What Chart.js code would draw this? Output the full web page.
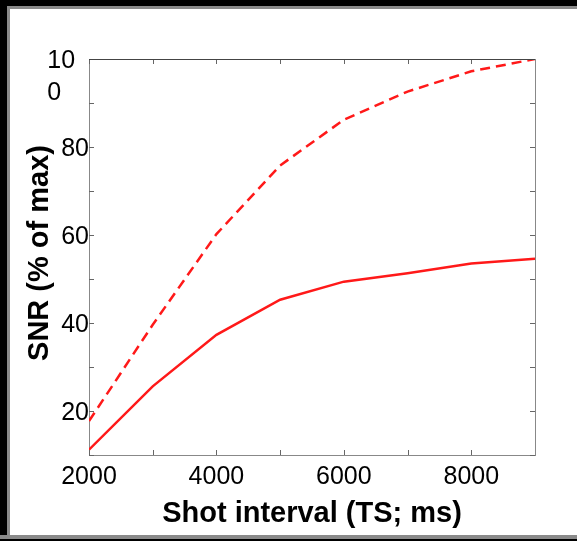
<!DOCTYPE html>
<html>
<head>
<meta charset="utf-8">
<script src="https://cdn.jsdelivr.net/npm/chart.js@4.4.1/dist/chart.umd.min.js"></script>
<style>
  html, body { margin: 0; padding: 0; background: #fff; }
  #wrap { position: relative; width: 577px; height: 541px; overflow: hidden; }
  canvas { position: absolute; left: 0; top: 0; }
  .bar { position: absolute; }
</style>
</head>
<body>
<div id="wrap">
  <canvas id="c" width="577" height="541"></canvas>
  <div class="bar" style="left:0;top:0;width:577px;height:6px;background:#000"></div>
  <div class="bar" style="left:7px;top:6px;width:570px;height:3px;background:#8a8a8a"></div>
  <div class="bar" style="left:0;top:0;width:7px;height:541px;background:#000"></div>
  <div class="bar" style="left:7px;top:6px;width:3px;height:535px;background:#8a8a8a"></div>
  <div class="bar" style="left:0;top:535px;width:577px;height:4px;background:#8a8a8a"></div>
  <div class="bar" style="left:0;top:539px;width:577px;height:2px;background:#000"></div>
</div>
<script>
const shotInterval = [2000, 3000, 4000, 5000, 6000, 7000, 8000, 9000];
const snrSolid  = [11.2, 25.6, 37.3, 45.3, 49.4, 51.3, 53.5, 54.6];
const snrDashed = [17.7, 39.6, 60.2, 75.8, 86.2, 92.6, 97.2, 100.0];
const xTicks = [2000, 3000, 4000, 5000, 6000, 7000, 8000, 9000];
const xLabelled = [2000, 4000, 6000, 8000];
const yTicks = [10, 20, 30, 40, 50, 60, 70, 80, 90, 100];
const yLabelled = [20, 40, 60, 80, 100];

const FONT = "'Liberation Sans', Arial, Helvetica, sans-serif";
const RED = 'rgb(255,25,25)';

const toPts = (xs, ys) => xs.map((x, i) => ({ x: x, y: ys[i] }));

const frameTicks = {
  id: 'frameTicks',
  afterDatasetsDraw(chart) {
    const { ctx, chartArea: a, scales } = chart;
    const len = 5;
    ctx.save();
    ctx.lineWidth = 1;
    ctx.strokeStyle = '#666';
    ctx.beginPath();
    xTicks.forEach(v => {
      const px = Math.round(scales.x.getPixelForValue(v)) + 0.5;
      ctx.moveTo(px, a.bottom); ctx.lineTo(px, a.bottom - len);
      ctx.moveTo(px, a.top); ctx.lineTo(px, a.top + len);
    });
    yTicks.forEach(v => {
      const py = Math.round(scales.y.getPixelForValue(v)) + 0.5;
      ctx.moveTo(a.left, py); ctx.lineTo(a.left + len, py);
      ctx.moveTo(a.right, py); ctx.lineTo(a.right - len, py);
    });
    ctx.stroke();
    ctx.strokeStyle = '#444';
    ctx.beginPath();
    ctx.moveTo(a.left, a.top + 0.5); ctx.lineTo(a.right, a.top + 0.5);
    ctx.stroke();
    ctx.strokeStyle = '#888';
    ctx.beginPath();
    ctx.moveTo(a.right + 0.5, a.top); ctx.lineTo(a.right + 0.5, a.bottom);
    ctx.stroke();
    ctx.restore();
  }
};

new Chart(document.getElementById('c'), {
  type: 'line',
  data: {
    datasets: [
      {
        data: toPts(shotInterval, snrDashed),
        borderColor: RED,
        borderWidth: 2.5,
        borderDash: [10, 6],
        pointRadius: 0,
        tension: 0,
        fill: false
      },
      {
        data: toPts(shotInterval, snrSolid),
        borderColor: RED,
        borderWidth: 2.5,
        pointRadius: 0,
        tension: 0,
        fill: false
      }
    ]
  },
  options: {
    responsive: false,
    animation: false,
    devicePixelRatio: 1,
    layout: { padding: { top: 59, right: 42, left: 0, bottom: 0 } },
    plugins: { legend: { display: false }, tooltip: { enabled: false } },
    scales: {
      x: {
        type: 'linear',
        min: 2000,
        max: 9000,
        afterFit: s => { s.height = 86; },
        grid: { display: false, drawTicks: false },
        border: { display: true, color: '#888', width: 1 },
        ticks: {
          stepSize: 1000,
          autoSkip: false,
          maxRotation: 0,
          padding: 7,
          color: '#000',
          font: { family: FONT, size: 25 },
          callback: v => xLabelled.includes(v) ? String(v) : ''
        },
        title: {
          display: true,
          text: 'Shot interval (TS; ms)',
          color: '#000',
          font: { family: FONT, size: 29, weight: 'bold' },
          padding: { top: 0, bottom: 10 }
        }
      },
      y: {
        type: 'linear',
        min: 10,
        max: 100,
        afterFit: s => { s.width = 89; },
        grid: { display: false, drawTicks: false },
        border: { display: true, color: '#888', width: 1 },
        ticks: {
          stepSize: 10,
          autoSkip: false,
          padding: 0,
          labelOffset: 2,
          color: '#000',
          font: { family: FONT, size: 25, lineHeight: 1.3 },
          callback: v => {
            if (!yLabelled.includes(v)) return '';
            if (v === 100) return ['', '10  ', '0    '];
            return String(v);
          }
        },
        title: {
          display: true,
          text: ' SNR (% of max)',
          color: '#000',
          font: { family: FONT, size: 29, weight: 'bold' },
          padding: { top: 23, bottom: 0 }
        }
      }
    }
  },
  plugins: [frameTicks]
});
</script>
</body>
</html>
